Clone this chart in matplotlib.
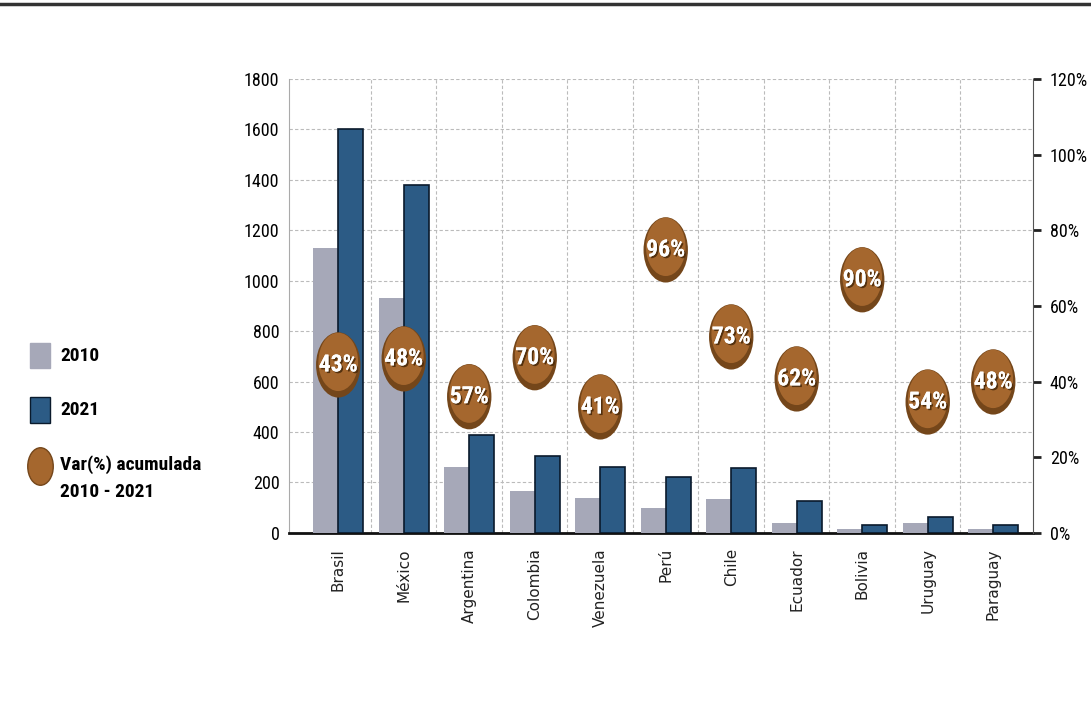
import numpy as np
import matplotlib
matplotlib.use("Agg")
import matplotlib.pyplot as plt
import matplotlib.path as mpath
import matplotlib.patheffects as pe
from matplotlib.lines import Line2D
from matplotlib.patches import Rectangle

# donnees
paises = ['Brasil', 'México', 'Argentina', 'Colombia', 'Venezuela', 'Perú',
          'Chile', 'Ecuador', 'Bolivia', 'Uruguay', 'Paraguay']
v2010 = [1130, 930, 260, 165, 140, 100, 135, 40, 15, 40, 15]
v2021 = [1600, 1380, 390, 305, 260, 220, 258, 125, 32, 65, 32]
var_etiqueta = ['43%', '48%', '57%', '70%', '41%', '96%', '73%', '62%', '90%', '54%', '48%']
# hauteur des bulles sur l'axe de droite (%)
var_pos = [44.4, 46.0, 36.0, 46.3, 33.3, 74.8, 51.8, 40.7, 66.9, 34.6, 39.9]

cond = ['Roboto Condensed', 'Liberation Sans Narrow', 'Roboto', 'DejaVu Sans']
c2010 = '#a6a8b8'
c2021 = '#2c5b85'
cbulle = '#a5672e'

fig = plt.figure(figsize=(10.91, 7.04), dpi=100)
ax = fig.add_axes([0.265, 0.243, 0.682, 0.645])
ax2 = ax.twinx()

x = np.arange(len(paises))
w = 0.38
ax.bar(x - w / 2, v2010, w, color=c2010, edgecolor='none', zorder=3)
ax.bar(x + w / 2, v2021, w, color=c2021, edgecolor='#0a1a2c', linewidth=1.2, zorder=3)

ax.set_xlim(-0.75, 10.61)
ax.set_ylim(0, 1800)
ax.set_yticks(range(0, 1801, 200))
ax.set_yticklabels([str(v) for v in range(0, 1801, 200)], family=cond, fontsize=13)
ax.tick_params(axis='y', length=0, pad=7)
ax.set_xticks(x)
ax.set_xticklabels(paises, rotation=90, fontsize=11, color='#222222')
ax.tick_params(axis='x', length=0, pad=11)

# grille pointillee
for gx in np.arange(0.5, 10, 1.0):
    ax.axvline(gx, color='#bbbbbb', lw=0.8, ls=(0, (3, 2)), zorder=1)
for gy in range(200, 1801, 200):
    ax.axhline(gy, color='#bbbbbb', lw=0.8, ls=(0, (3, 2)), zorder=1)

ax.spines['top'].set_visible(False)
ax.spines['right'].set_visible(False)
ax.spines['left'].set_color('#aaaaaa')
ax.spines['bottom'].set_color('#111111')
ax.spines['bottom'].set_linewidth(2)

ax2.set_ylim(0, 120)
ax2.set_yticks(range(0, 121, 20))
ax2.set_yticklabels([f'{v}%' for v in range(0, 121, 20)], family=cond, fontsize=13)
ax2.tick_params(axis='y', length=6, width=2, color='#222222', pad=6)
ax2.spines['top'].set_visible(False)
ax2.spines['left'].set_visible(False)
ax2.spines['bottom'].set_visible(False)
ax2.spines['right'].set_color('#555555')

# bulles ovales
circ = mpath.Path.unit_circle()
ovale = mpath.Path(circ.vertices * np.array([0.68, 1.0]), circ.codes)
ax2.scatter(x, var_pos, s=47 ** 2, marker=ovale, color='#74461a',
            edgecolor='none', zorder=5)
ax2.scatter(x, np.array(var_pos) + 0.8, s=42 ** 2, marker=ovale, color=cbulle,
            edgecolor='none', zorder=5)
ombre = [pe.withSimplePatchShadow(offset=(1.2, -1.2), shadow_rgbFace='#4a2a0a', alpha=0.9),
         pe.Normal()]
for xi, yi, t in zip(x, var_pos, var_etiqueta):
    ax2.text(xi, yi, t, ha='center', va='center', color='white',
             family=cond, fontsize=17, fontweight='bold', zorder=7,
             path_effects=ombre)

# legende a gauche
fig.add_artist(Rectangle((30 / 1091, 1 - 368 / 704), 20 / 1091, 25 / 704,
                         transform=fig.transFigure, color=c2010))
fig.text(60 / 1091, 1 - 356 / 704, '2010', family=cond, fontsize=14,
         fontweight='bold', va='center')
fig.add_artist(Rectangle((30 / 1091, 1 - 423 / 704), 20 / 1091, 26 / 704,
                         transform=fig.transFigure, color=c2021, ec='#0a1a2c'))
fig.text(60 / 1091, 1 - 410 / 704, '2021', family=cond, fontsize=14,
         fontweight='bold', va='center')
fig.add_artist(Line2D([40 / 1091], [1 - 466 / 704], marker=ovale, markersize=27,
                      color=cbulle, markeredgecolor='#74461a', transform=fig.transFigure))
fig.text(60 / 1091, 1 - 465 / 704, 'Var(%) acumulada', family=cond, fontsize=14,
         fontweight='bold', va='center')
fig.text(60 / 1091, 1 - 492 / 704, '2010 - 2021', family=cond, fontsize=14,
         fontweight='bold', va='center')

# trait du haut
fig.add_artist(Line2D([0, 1], [1 - 4 / 704, 1 - 4 / 704], color='#333333', lw=2.5,
                      transform=fig.transFigure))

fig.savefig('out.png', dpi=100)
